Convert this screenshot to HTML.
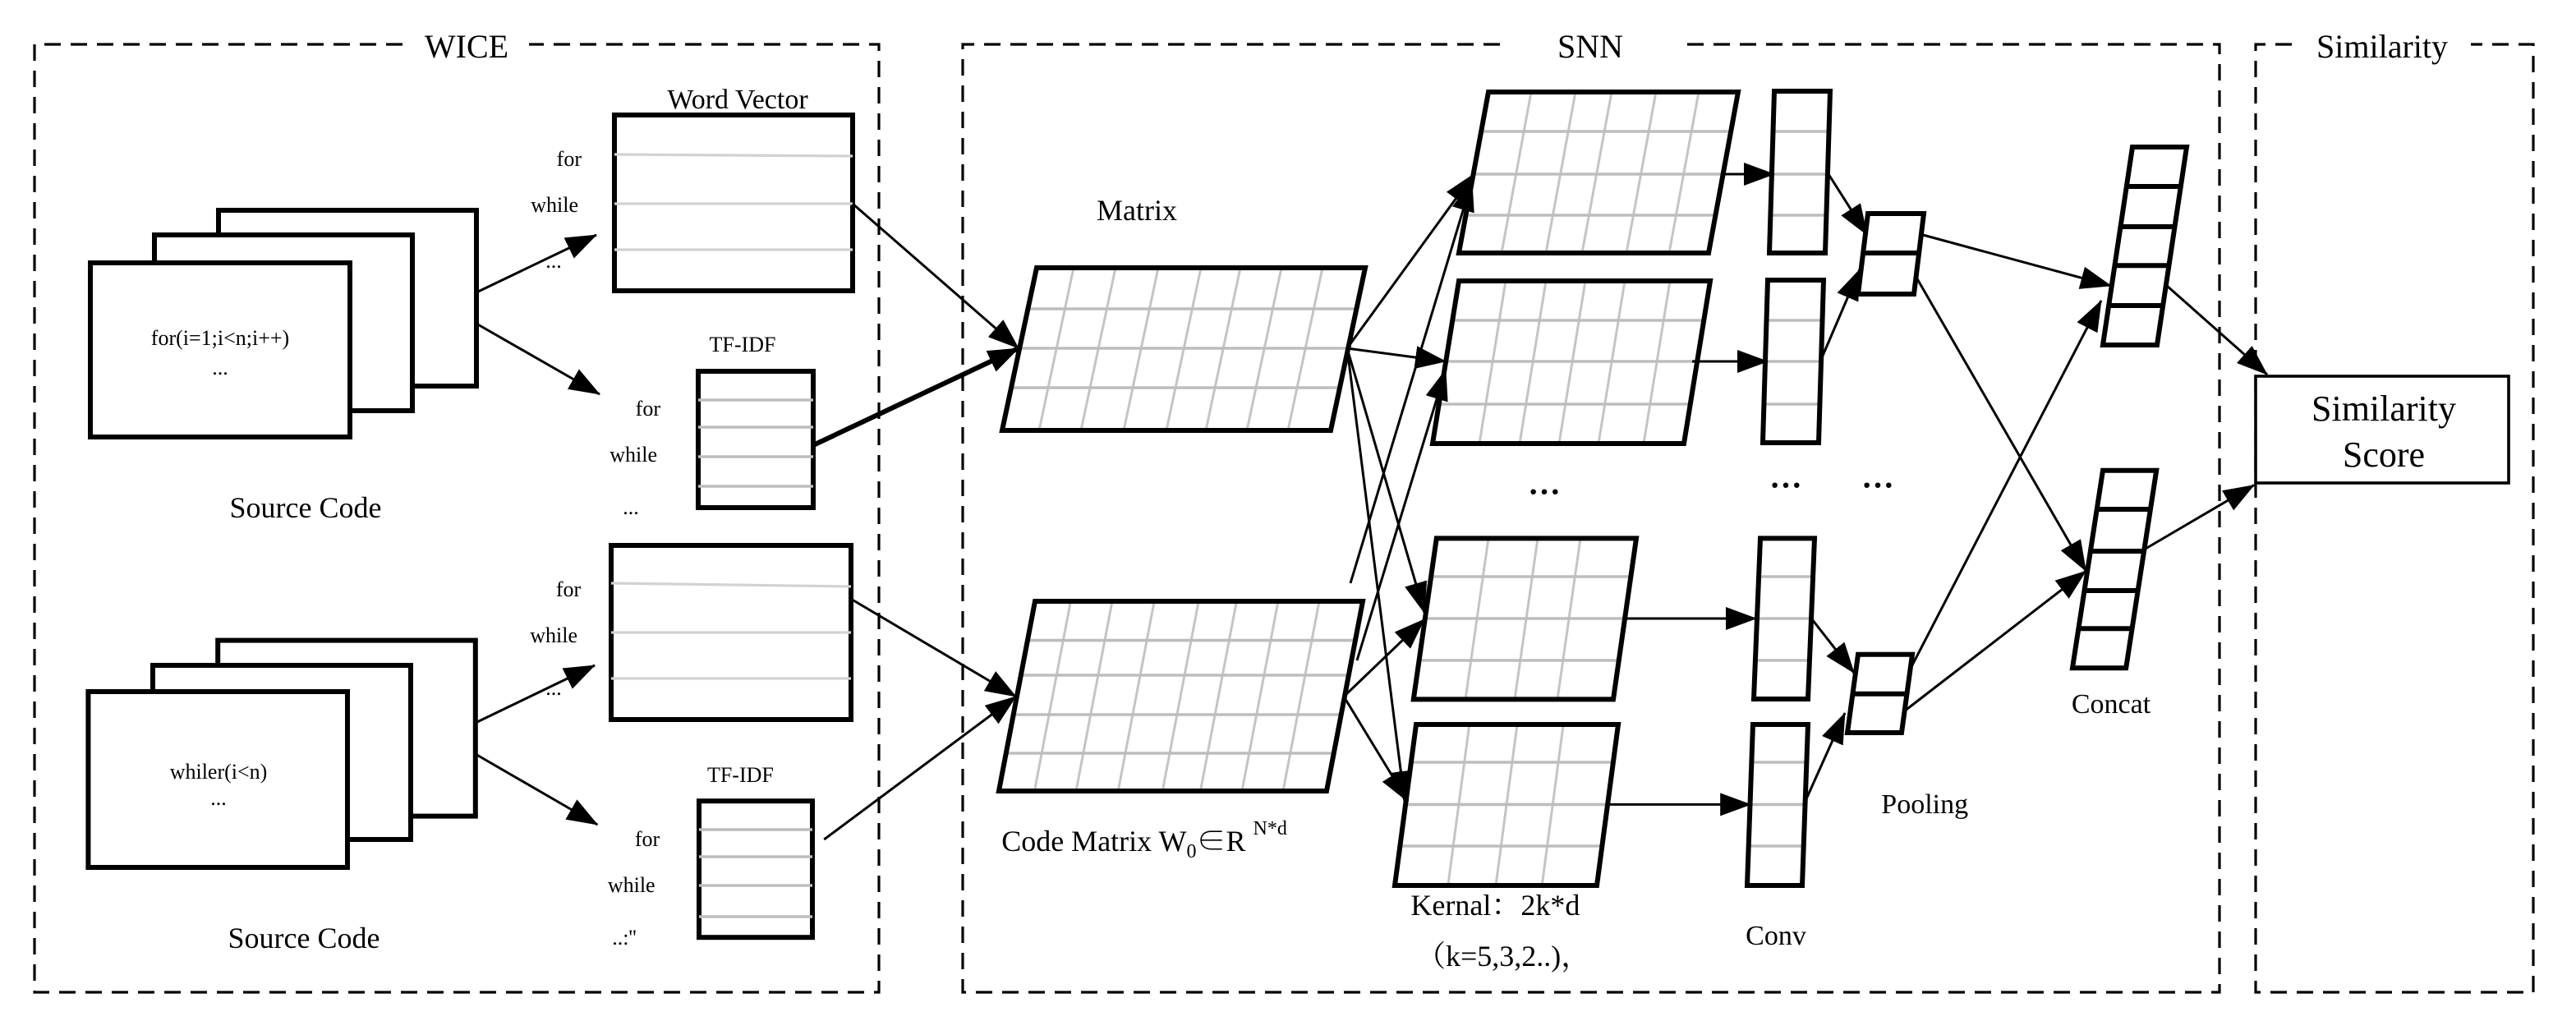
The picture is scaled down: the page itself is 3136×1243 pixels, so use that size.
<!DOCTYPE html>
<html><head><meta charset="utf-8"><style>
html,body{margin:0;padding:0;background:#fff;}
svg{display:block;}
svg text{font-family:"Liberation Serif","Noto Serif CJK SC",serif;fill:#000;}
</style></head><body>
<svg id="s" xmlns="http://www.w3.org/2000/svg" width="3136" height="1243" viewBox="0 0 1568 621.5" font-family="'Liberation Serif', 'Noto Serif CJK SC', serif">
<defs>
<marker id="a" markerWidth="19" markerHeight="14" refX="18.5" refY="7" orient="auto" markerUnits="userSpaceOnUse"><path d="M0,0 L19,7 L0,14 z" fill="#000"/></marker>
</defs>
<rect width="1568" height="621.5" fill="#fff"/>
<g fill="none" stroke="#000" stroke-width="1.6" stroke-dasharray="10,6">
<path d="M245,27 H21 V604 H535 V27 H322"/>
<path d="M913,27 H586 V604 H1351 V27 H1023"/>
<path d="M1395,27 H1373 V604 H1542 V27 H1504"/>
</g>
<text x="284" y="35" font-size="20" text-anchor="middle">WICE</text>
<text x="968" y="35" font-size="20" text-anchor="middle">SNN</text>
<text x="1450" y="35" font-size="20" text-anchor="middle">Similarity</text>

<g fill="#fff" stroke="#000" stroke-width="3">
<rect x="133" y="128" width="157" height="107"/>
<rect x="94" y="143" width="157" height="107"/>
<rect x="55" y="160" width="158" height="106"/>
<rect x="132.6" y="389.8" width="156.8" height="107"/>
<rect x="93" y="405" width="157" height="106"/>
<rect x="53.7" y="421" width="157.8" height="107"/>
<rect x="374" y="70" width="145" height="107"/>
<rect x="425" y="226" width="70" height="83"/>
<rect x="372" y="332" width="146" height="106"/>
<rect x="425.5" y="487.6" width="69" height="83"/>
</g>
<g stroke="#d2d2d2" stroke-width="1.6">
<line x1="374" y1="94" x2="519" y2="95"/><line x1="374" y1="124" x2="519" y2="124"/><line x1="374" y1="152" x2="519" y2="152"/>
<line x1="372" y1="355" x2="518" y2="357"/><line x1="372" y1="385" x2="518" y2="385"/><line x1="372" y1="413" x2="518" y2="413"/>
</g>
<g stroke="#bdbdbd" stroke-width="1.8">
<line x1="425" y1="243.5" x2="495" y2="243.5"/><line x1="425" y1="260" x2="495" y2="260"/><line x1="425" y1="278" x2="495" y2="278"/><line x1="425" y1="296" x2="495" y2="296"/>
<line x1="425.5" y1="505" x2="494.5" y2="505"/><line x1="425.5" y1="521.5" x2="494.5" y2="521.5"/><line x1="425.5" y1="539" x2="494.5" y2="539"/><line x1="425.5" y1="558" x2="494.5" y2="558"/>
</g>

<text x="134" y="210" font-size="13" text-anchor="middle">for(i=1;i&lt;n;i++)</text>
<text x="134" y="228" font-size="13" text-anchor="middle">...</text>
<text x="186" y="315" font-size="18" text-anchor="middle">Source Code</text>
<text x="133" y="474" font-size="13" text-anchor="middle">whiler(i&lt;n)</text>
<text x="133" y="490" font-size="13" text-anchor="middle">...</text>
<text x="185" y="577" font-size="18" text-anchor="middle">Source Code</text>
<text x="449" y="66" font-size="17" text-anchor="middle">Word Vector</text>
<text x="354" y="101" font-size="13" text-anchor="end">for</text>
<text x="352" y="129" font-size="13" text-anchor="end">while</text>
<text x="337" y="163" font-size="13" text-anchor="middle">...</text>
<text x="452" y="214" font-size="13" text-anchor="middle">TF-IDF</text>
<text x="402" y="253" font-size="13" text-anchor="end">for</text>
<text x="400" y="281" font-size="13" text-anchor="end">while</text>
<text x="384" y="313" font-size="13" text-anchor="middle">...</text>
<text x="353.6" y="363" font-size="13" text-anchor="end">for</text>
<text x="351.5" y="391" font-size="13" text-anchor="end">while</text>
<text x="337" y="423" font-size="13" text-anchor="middle">...</text>
<text x="450.7" y="476" font-size="13" text-anchor="middle">TF-IDF</text>
<text x="401.6" y="515" font-size="13" text-anchor="end">for</text>
<text x="398.8" y="543" font-size="13" text-anchor="end">while</text>
<text x="380" y="575" font-size="13" text-anchor="middle">..:''</text>

<g id="grids"></g>

<text x="692" y="134" font-size="18" text-anchor="middle">Matrix</text>
<text x="609.6" y="518" font-size="18">Code Matrix W<tspan font-size="12" dy="4">0</tspan><tspan dy="-4">∈R </tspan><tspan font-size="12" dy="-10">N*d</tspan></text>
<text x="858.7" y="557" font-size="18">Kernal：2k*d</text>
<text x="862" y="588" font-size="18">（k=5,3,2..)，</text>
<text x="1081" y="575" font-size="17" text-anchor="middle">Conv</text>
<text x="1171.6" y="495" font-size="17" text-anchor="middle">Pooling</text>
<text x="1285" y="434" font-size="17" text-anchor="middle">Concat</text>
<text x="940" y="306" font-size="20" text-anchor="middle" font-weight="bold">···</text>
<text x="1087" y="302" font-size="20" text-anchor="middle" font-weight="bold">···</text>
<text x="1143" y="302" font-size="20" text-anchor="middle" font-weight="bold">···</text>

<rect x="1373" y="229" width="154" height="65" fill="#fff" stroke="#000" stroke-width="1.8"/>
<text x="1451" y="256" font-size="22" text-anchor="middle">Similarity</text>
<text x="1451" y="284" font-size="22" text-anchor="middle">Score</text>

<g stroke="#000" stroke-width="1.5" fill="none" marker-end="url(#a)">
<line x1="290" y1="178" x2="363" y2="143"/>
<line x1="290" y1="197" x2="365" y2="240"/>
<line x1="289.4" y1="440" x2="362" y2="405"/>
<line x1="289.4" y1="459" x2="363.7" y2="502"/>
<line x1="519" y1="124" x2="620" y2="212"/>
<line x1="495" y1="271" x2="620" y2="212" stroke-width="3"/>
<line x1="517" y1="364" x2="618.4" y2="424"/>
<line x1="501.6" y1="511" x2="618.4" y2="424"/>
<line x1="820" y1="212" x2="897" y2="106"/>
<line x1="820" y1="212" x2="880" y2="220"/>
<line x1="820" y1="212" x2="867" y2="373"/>
<line x1="820" y1="212" x2="855" y2="488"/>
<line x1="818" y1="424" x2="867" y2="377"/>
<line x1="818" y1="424" x2="857" y2="488"/>
<line x1="822" y1="355" x2="896" y2="110"/>
<line x1="826" y1="402" x2="880" y2="225"/>
<line x1="1048" y1="106" x2="1080" y2="106"/>
<line x1="1030" y1="220" x2="1076" y2="220"/>
<line x1="990" y1="376.5" x2="1069" y2="376.5"/>
<line x1="978.6" y1="489.7" x2="1065.6" y2="489.7"/>
<line x1="1113" y1="106" x2="1136.5" y2="143"/>
<line x1="1108" y1="220" x2="1132" y2="164"/>
<line x1="1103" y1="377" x2="1128.6" y2="409.7"/>
<line x1="1098" y1="489.7" x2="1123" y2="434"/>
<line x1="1170.5" y1="143" x2="1285" y2="174"/>
<line x1="1162" y1="408.7" x2="1279" y2="183"/>
<line x1="1166" y1="168" x2="1269.7" y2="347.6"/>
<line x1="1159" y1="433" x2="1269.7" y2="347.6"/>
<line x1="1319" y1="174" x2="1380" y2="228"/>
<line x1="1306" y1="334" x2="1372" y2="295.3"/>
</g>
</svg>
<script>
(function(){
var NS="http://www.w3.org/2000/svg",g=document.getElementById("grids");
function el(n,a){var e=document.createElementNS(NS,n);for(var k in a)e.setAttribute(k,a[k]);g.appendChild(e);return e;}
function P(t,b,tl,tr,dx,hy,vx,hc,hw){
 var h=b-t;
 el("polygon",{points:tl+","+t+" "+tr+","+t+" "+(tr+dx)+","+b+" "+(tl+dx)+","+b,fill:"#fff",stroke:"none"});
 vx.forEach(function(x){el("line",{x1:x,y1:t,x2:x+dx,y2:b,stroke:"#c4c4c4","stroke-width":1.5});});
 hy.forEach(function(y){var f=(y-t)/h;el("line",{x1:tl+dx*f,y1:y,x2:tr+dx*f,y2:y,stroke:hc,"stroke-width":hw});});
 el("polygon",{points:tl+","+t+" "+tr+","+t+" "+(tr+dx)+","+b+" "+(tl+dx)+","+b,fill:"none",stroke:"#000","stroke-width":3});
}
var G="#bdbdbd";
P(163,262,631,831,-21,[188,212,236],[653.5,679,705,731,755,780,805],G,1.8);
P(366,481.5,630,829.5,-22,[389.8,411,435,458.5],[651.7,677,702.6,729.6,752.7,778,803],G,1.8);
P(56,154,906,1058,-18,[80,106,131],[932,959,981,1008,1034],G,1.8);
P(171,270,888,1041,-16,[195,220,246],[916.5,941,965,989,1016.5],G,1.8);
P(327.7,425.7,874.4,996,-14,[351,376.5,402],[906,936,962],G,1.8);
P(441,539,862,985,-13,[464,489.7,515],[894.4,923.5,951.6],G,1.8);
P(55.5,154,1080,1114,-3,[80,106,131],[],G,1.8);
P(170.5,269.5,1076,1110,-3,[195,220,246],[],G,1.8);
P(327.7,425.5,1071.5,1104.5,-4,[351,376.5,402],[],G,1.8);
P(441,539,1067,1100.5,-3.5,[464,489.7,515],[],G,1.8);
P(130,179,1137,1171,-6,[154],[],"#000",3);
P(398.4,446,1131,1164,-6.5,[422.4],[],"#000",3);
P(89.5,210,1298,1331,-18,[113.5,138,161.6,186],[],"#000",3);
P(286.4,406.6,1280,1312.6,-18.5,[310,335.5,359.5,382.6],[],"#000",3);
})();
</script>
</body></html>
